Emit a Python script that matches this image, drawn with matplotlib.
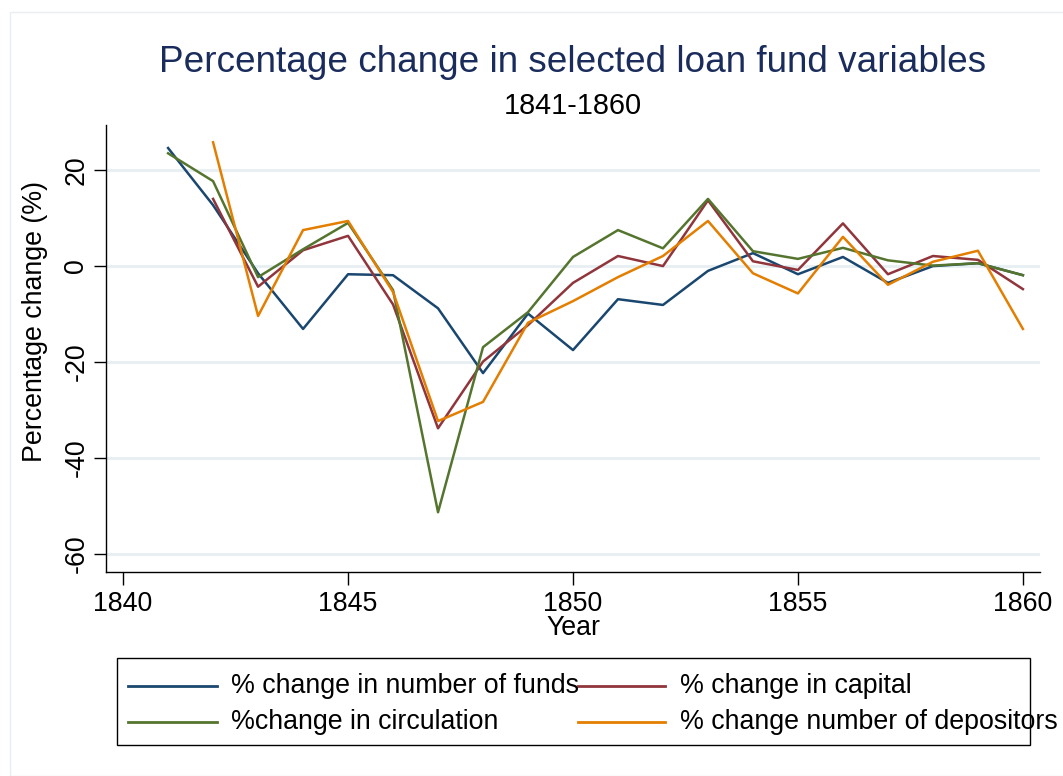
import matplotlib
matplotlib.use("Agg")
import matplotlib.pyplot as plt
from matplotlib.lines import Line2D
from matplotlib.patches import Rectangle

plt.rcParams['font.family'] = ['Liberation Sans', 'DejaVu Sans']

years = list(range(1841, 1861))
funds = [24.6, 12.7, -1.5, -13.1, -1.7, -1.9, -8.8, -22.3, -9.9, -17.5,
         -6.9, -8.1, -1.0, 2.7, -1.7, 1.9, -3.5, 0.0, 0.6, -1.9]
capital_years = list(range(1842, 1861))
capital = [14.0, -4.3, 3.3, 6.3, -8.0, -33.8, -19.9, -12.3, -3.5,
           2.1, 0.0, 13.7, 1.0, -0.8, 8.9, -1.7, 2.1, 1.3, -4.8]
circulation = [23.5, 17.7, -2.3, 3.5, 9.0, -5.0, -51.3, -16.9, -9.6, 1.9,
               7.5, 3.7, 14.0, 3.1, 1.5, 3.8, 1.2, 0.1, 0.6, -1.9]
dep_years = list(range(1842, 1861))
depositors = [25.8, -10.4, 7.5, 9.4, -5.4, -32.3, -28.3, -11.8, -7.3,
              -2.3, 2.1, 9.4, -1.5, -5.7, 6.1, -3.9, 0.9, 3.2, -13.1]

labels = ["% change in number of funds", "% change in capital",
          "%change in circulation", "% change number of depositors"]
colors = ["#1a476f", "#90353b", "#55752f", "#e37e00"]

xticks = [1840, 1845, 1850, 1855, 1860]
yticks = [20, 0, -20, -40, -60]

W, H = 1063, 776
fig = plt.figure(figsize=(W / 100, H / 100), dpi=100)
fig.patch.set_facecolor("white")

# faint outer graph-region border
fig.add_artist(Rectangle((10 / W, 0), 1.2, 1 - 12 / H, transform=fig.transFigure,
                         fill=False, edgecolor="#e8eef1", linewidth=1.0))

ax = fig.add_axes([106 / W, 1 - 572 / H, (1040 - 106) / W, (572 - 125) / H])
ax.set_xlim(1839.62, 1860.38)
ax.set_ylim(-63.75, 29.4)

for v in yticks:
    ax.axhline(v, color="#e6eff2", linewidth=2.0, zorder=0)

series = [(years, funds), (capital_years, capital), (years, circulation), (dep_years, depositors)]
for (xs, ys), c, lab in zip(series, colors, labels):
    ax.plot(xs, ys, color=c, linewidth=1.8, label=lab, zorder=3)

for s in ["top", "right"]:
    ax.spines[s].set_visible(False)
for s in ["left", "bottom"]:
    ax.spines[s].set_color("black")
    ax.spines[s].set_linewidth(1.0)

ax.set_xticks(xticks)
ax.set_yticks(yticks)
ax.set_yticklabels([str(v) for v in yticks], rotation=90, va="center")
ax.tick_params(axis="both", length=9, width=1.0, labelsize=19.3, colors="black")
ax.tick_params(axis="x", pad=5)
ax.tick_params(axis="y", pad=3)

ax.set_xlabel("Year", fontsize=19.3, va="center")
ax.xaxis.set_label_coords(0.5 + (573 - 573) / 934, (572 - 628) / 447)
ax.set_ylabel("Percentage change (%)", fontsize=19.3, va="center")
ax.yaxis.set_label_coords((35 - 106) / 934, (572 - 321) / 447)

fig.text(573 / W, 1 - 62 / H, "Percentage change in selected loan fund variables",
         ha="center", va="center", fontsize=26.6, color="#1a2c5b")
fig.text(573 / W, 1 - 106 / H, "1841-1860", ha="center", va="center",
         fontsize=20.8, color="black")

# legend box (Stata-style, drawn manually)
fig.add_artist(Rectangle((117 / W, 1 - 745 / H), (1030 - 117) / W, (745 - 658) / H,
                         transform=fig.transFigure, fill=False,
                         edgecolor="black", linewidth=1.0, zorder=1))
pos = [(128, 217, 231, 686), (578, 665, 680, 686), (128, 217, 231, 722), (578, 665, 680, 722)]
for (x0, x1, xt, yy), c, lab in zip(pos, colors, labels):
    fig.add_artist(Line2D([x0 / W, x1 / W], [1 - yy / H, 1 - yy / H],
                          transform=fig.transFigure, color=c, linewidth=2.0))
    fig.text(xt / W, 1 - yy / H, lab, ha="left", va="center", fontsize=19.3,
             color="black", zorder=5)

fig.savefig("out.png", dpi=100, facecolor="white")
